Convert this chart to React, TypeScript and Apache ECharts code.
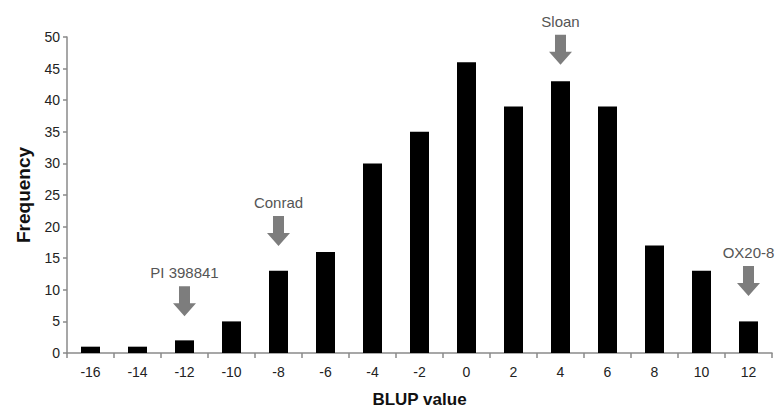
import React, { useEffect, useRef } from "react";
import * as echarts from "echarts";

const categories = ["-16", "-14", "-12", "-10", "-8", "-6", "-4", "-2", "0", "2", "4", "6", "8", "10", "12"];
const frequency = [1, 1, 2, 5, 13, 16, 30, 35, 46, 39, 43, 39, 17, 13, 5];
const yTicks = { min: 0, max: 50, interval: 5 };

// Arrow annotations: category, vertical position (frequency units) of arrow centre, label
const arrowNames = ["PI 398841", "Conrad", "Sloan", "OX20-8"];
const arrowCategories = ["-12", "-8", "4", "12"];
const arrowLevels = [8.2, 19.3, 48, 11.4];

const FONT = "'Liberation Sans', Arial, Helvetica, sans-serif";
const ARROW = "path://M6,0 H17 V17 H23 L11.5,30 L0,17 H6 Z";

export default function App() {
  const ref = useRef<HTMLDivElement>(null);
  useEffect(() => {
    if (!ref.current) return;
    const chart = echarts.init(ref.current, undefined, { renderer: "svg" });
    chart.setOption({
      animation: false,
      backgroundColor: "#ffffff",
      grid: { left: 67, right: 12, top: 37, bottom: 60, containLabel: false },
      xAxis: {
        type: "category",
        data: categories,
        name: "BLUP value",
        nameLocation: "middle",
        nameGap: 38,
        nameTextStyle: { fontFamily: FONT, fontSize: 17, fontWeight: "bold", color: "#111" },
        axisLine: { lineStyle: { color: "#8a8a8a", width: 1.5 } },
        axisTick: { show: true, length: 5, lineStyle: { color: "#8a8a8a", width: 1.5 } },
        axisLabel: { fontFamily: FONT, fontSize: 14, color: "#222", margin: 12 },
      },
      yAxis: {
        type: "value",
        min: yTicks.min,
        max: yTicks.max,
        interval: yTicks.interval,
        name: "Frequency",
        nameLocation: "middle",
        nameGap: 34,
        nameTextStyle: { fontFamily: FONT, fontSize: 19, fontWeight: "bold", color: "#111" },
        axisLine: { show: true, lineStyle: { color: "#8a8a8a", width: 1.5 } },
        axisTick: { show: true, length: 4, lineStyle: { color: "#8a8a8a", width: 1.5 } },
        axisLabel: { fontFamily: FONT, fontSize: 14, color: "#222", margin: 7 },
        splitLine: { show: false },
      },
      series: [
        {
          type: "bar",
          data: frequency,
          barWidth: 19,
          itemStyle: { color: "#000000" },
        },
        {
          type: "scatter",
          symbol: ARROW,
          symbolSize: [23, 30],
          symbolKeepAspect: false,
          itemStyle: { color: "#7d7d7d", opacity: 1 },
          label: {
            show: true,
            position: "top",
            distance: 6,
            formatter: "{b}",
            fontFamily: FONT,
            fontSize: 15,
            color: "#555",
          },
          data: arrowNames.map((n, i) => ({ name: n, value: [arrowCategories[i], arrowLevels[i]] })),
          z: 5,
        },
      ],
    });
    return () => chart.dispose();
  }, []);
  return <div ref={ref} style={{ width: 784, height: 413, position: "absolute", left: 0, top: 0 }} />;
}
